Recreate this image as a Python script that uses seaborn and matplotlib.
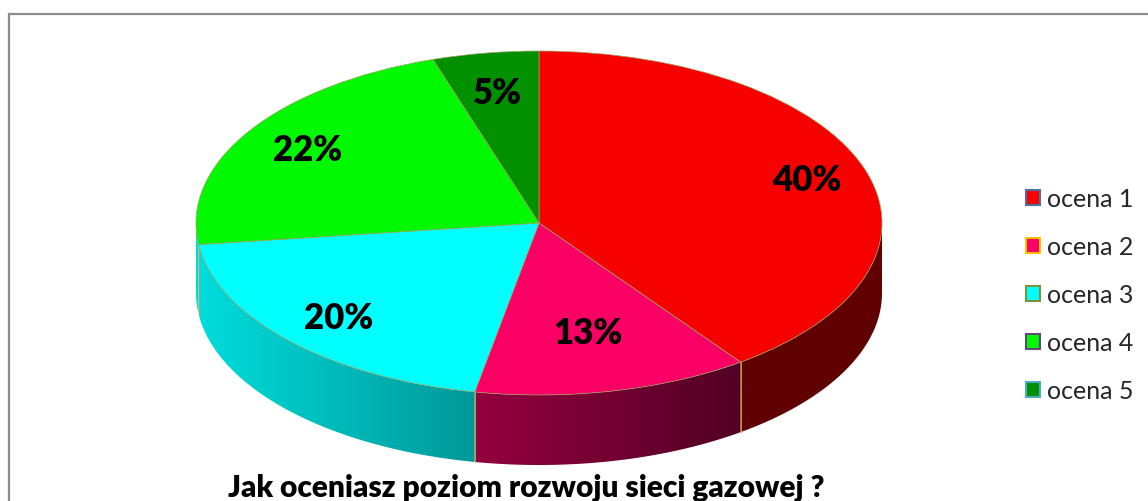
import numpy as np
import matplotlib
matplotlib.use("Agg")
import matplotlib.pyplot as plt
import seaborn as sns
from matplotlib.colors import LinearSegmentedColormap
from matplotlib.patches import Polygon, Rectangle, Patch

# Survey answers: share of respondents per rating
categories = ["ocena 1", "ocena 2", "ocena 3", "ocena 4", "ocena 5"]
shares = [40, 13, 20, 22, 5]
chart_title = "Jak oceniasz poziom rozwoju sieci gazowej ?"

# Styling
top_colors = ["#F70000", "#FA0064", "#00FFFF", "#00F800", "#009000"]
side_colors = [("#600000", "#600000"), ("#94003F", "#520024"),
               ("#00DCDC", "#009898"), ("#00C800", "#00B800"),
               ("#007000", "#007000")]
legend_edges = ["#4F6F9F", "#FFC000", "#77933C", "#604A7B", "#4BACC6"]
label_radius = [0.82, 0.65, 0.80, 0.80, 0.77]

sns.set_theme(style="white")
plt.rcParams["font.family"] = ["Lato", "DejaVu Sans"]

W, H = 1148, 502
fig = plt.figure(figsize=(W / 100, H / 100), dpi=100)
ax = fig.add_axes([0, 0, 1, 1])

# ellipse geometry of the pie top (pixels)
cx, cy, rx, ry = 539, 224, 343, 172
depth = 70 / ry


def set_view():
    ax.set_aspect("auto")
    ax.set_xlim(-cx / rx, (W - cx) / rx)
    ax.set_ylim(-(H - cy) / ry, cy / ry)
    ax.axis("off")


# top face
wedges, texts, autotexts = ax.pie(
    shares, colors=top_colors, startangle=90, counterclock=False,
    autopct="%.0f%%", pctdistance=0.8, radius=1,
    wedgeprops=dict(linewidth=0.5, edgecolor="#A0A060"),
    textprops=dict(fontsize=25, fontweight="heavy", color="black"),
)
set_view()

# boundary angles of each slice (clockwise from 12 o'clock)
cum = np.concatenate([[0], np.cumsum(shares)]) / np.sum(shares)
bounds = 90 - 360 * cum

# label placement on the mid-angle of each slice
for txt, a_hi, a_lo, r in zip(autotexts, bounds[:-1], bounds[1:], label_radius):
    mid = np.radians((a_hi + a_lo) / 2)
    txt.set_position((r * np.cos(mid), r * np.sin(mid)))


def side_wall(a_hi, a_lo, c_left, c_right):
    t = np.radians(np.linspace(a_lo, a_hi, 240))
    xs, ys = np.cos(t), np.sin(t)
    verts = np.concatenate([np.column_stack([xs, ys]),
                            np.column_stack([xs[::-1], ys[::-1] - depth])])
    poly = Polygon(verts, closed=True, facecolor="none", edgecolor="none")
    ax.add_patch(poly)
    cmap = LinearSegmentedColormap.from_list("wall", [c_left, c_right])
    img = ax.imshow(np.linspace(0, 1, 256)[None, :], cmap=cmap,
                    extent=(xs.min(), xs.max(), ys.min() - depth, ys.max()),
                    aspect="auto", interpolation="bilinear", zorder=0.5)
    img.set_clip_path(poly)
    # thin seams at the wall ends
    for a in (a_lo, a_hi):
        if -180 < a < 0:
            x, y = np.cos(np.radians(a)), np.sin(np.radians(a))
            ax.plot([x, x], [y, y - depth], color="#C8A040", lw=0.6, zorder=0.6)


# front walls: the part of each slice in the lower half of the ellipse;
# slivers at the silhouette edge are hidden by the slight view tilt
for (a_hi, a_lo), (cl, cr) in zip(zip(bounds[:-1], bounds[1:]), side_colors):
    lo, hi = max(a_lo, -180), min(a_hi, 0)
    if hi - lo > 10:
        side_wall(hi, lo, cl, cr)

# carry the neighbouring wall on to the left silhouette
left = [i for i, (a_hi, a_lo) in enumerate(zip(bounds[:-1], bounds[1:]))
        if a_lo <= -180 < a_hi]
if left and left[0] > 0:
    j = left[0] - 1
    side_wall(bounds[j + 1], -180, side_colors[j][0], side_colors[j][0])

set_view()

# legend
handles = [Patch(facecolor=c, edgecolor=e, linewidth=1.5)
           for c, e in zip(top_colors, legend_edges)]
fig.legend(handles, categories, loc="center left",
           bbox_to_anchor=(1026 / W, 1 - 296 / H), frameon=False,
           fontsize=18, handlelength=0.55, handleheight=0.55,
           handletextpad=0.3, labelspacing=1.0, borderaxespad=0,
           borderpad=0)

# title
fig.text(526 / W, 1 - 488 / H, chart_title, ha="center", va="center",
         fontsize=21.5, fontweight="heavy", color="black")

# chart-area frame
fig.add_artist(Rectangle((8.5 / W, -0.2), 1.2, (H - 14.5) / H + 0.2,
                         transform=fig.transFigure, fill=False,
                         edgecolor="#8C8C8C", linewidth=1.6))

fig.savefig("out.png", dpi=100)
